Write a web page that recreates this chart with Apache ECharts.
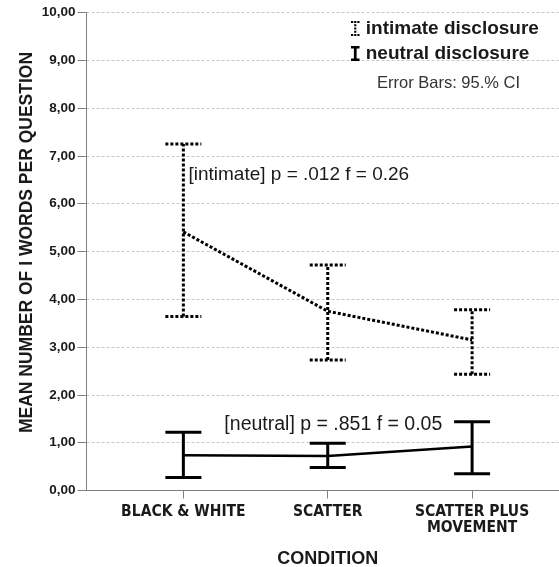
<!DOCTYPE html>
<html><head><meta charset="utf-8">
<script src="https://cdn.jsdelivr.net/npm/echarts@6/dist/echarts.min.js"></script>
<style>html,body{margin:0;padding:0;background:#fff}#c{width:559px;height:567px}</style>
</head><body><div id="c"></div>
<script>
// ---- data ----
const categories = ['BLACK & WHITE', 'SCATTER', 'SCATTER PLUS\nMOVEMENT'];
const categoryPos = [1, 2, 3];
const intimateMean = [5.41, 3.75, 3.15];
const intimateLow  = [3.64, 2.73, 2.43];
const intimateHigh = [7.25, 4.72, 3.78];
const neutralMean  = [0.74, 0.72, 0.92];
const neutralLow   = [0.27, 0.48, 0.35];
const neutralHigh  = [1.22, 0.99, 1.44];
const seriesNames  = ['intimate disclosure', 'neutral disclosure'];
const intimateNote = '[intimate] p = .012 f = 0.26';
const neutralNote  = '[neutral] p = .851 f = 0.05';
const intimateNoteAt = [1.035, 6.6];
const neutralNoteAt  = [1.284, 1.38];
const errorNote = 'Error Bars: 95.% CI';

const FONT = '"Liberation Sans", Arial, sans-serif';
const NARROW = '"Liberation Sans Narrow", "DejaVu Sans Condensed", "Liberation Sans", sans-serif';

function errRender(dash) {
  return function (params, api) {
    const x = api.value(0), lo = api.value(1), hi = api.value(2);
    const pLo = api.coord([x, lo]), pHi = api.coord([x, hi]);
    const hw = 18;
    const st = () => ({ stroke: '#000', lineWidth: 3, lineDash: dash, fill: null });
    return { type: 'group', children: [
      { type: 'line', shape: { x1: pLo[0], y1: pLo[1], x2: pHi[0], y2: pHi[1] }, style: st() },
      { type: 'line', shape: { x1: pHi[0] - hw, y1: pHi[1], x2: pHi[0] + hw, y2: pHi[1] }, style: st() },
      { type: 'line', shape: { x1: pLo[0] - hw, y1: pLo[1], x2: pLo[0] + hw, y2: pLo[1] }, style: st() }
    ]};
  };
}

const zip3 = (a, b, c) => a.map((v, i) => [v, b[i], c[i]]);
const zip2 = (a, b) => a.map((v, i) => [v, b[i]]);

const dottedIcon = 'path://M0,0h2.6v2.4h-2.6z M3.7,0h2.6v2.4h-2.6z M7.4,0h2.6v2.4h-2.6z M3.7,3.8h2.6v2.4h-2.6z M3.7,7.6h2.6v2.4h-2.6z M3.7,11.4h2.6v2.4h-2.6z M0,15.2h2.6v2.4h-2.6z M3.7,15.2h2.6v2.4h-2.6z M7.4,15.2h2.6v2.4h-2.6z';
const solidIcon = 'path://M0,0h10v2.8h-3.4v12h3.4v2.8h-10v-2.8h3.4v-12h-3.4z';

const chart = echarts.init(document.getElementById('c'), null, { renderer: 'canvas' });
chart.setOption({
  animation: false,
  backgroundColor: '#fff',
  grid: { left: 86.5, right: 0, top: 12.5, bottom: 76.5, containLabel: false, outerBoundsMode: 'none' },
  legend: {
    orient: 'vertical', left: 346, top: 14, itemWidth: 11, itemHeight: 15, itemGap: 6,
    selectedMode: false,
    textStyle: { fontFamily: FONT, fontWeight: 'bold', fontSize: 19, color: '#1a1a1a' },
    data: [
      { name: seriesNames[0], icon: dottedIcon, itemStyle: { color: '#000', borderWidth: 0 } },
      { name: seriesNames[1], icon: solidIcon, itemStyle: { color: '#000', borderWidth: 0 } }
    ]
  },
  xAxis: {
    type: 'value', min: 0.329, max: 3.602,
    name: 'CONDITION', nameLocation: 'middle', nameGap: 60, nameMoveOverlap: false,
    nameTextStyle: { fontFamily: FONT, fontWeight: 'bold', fontSize: 18, color: '#1a1a1a', padding: [0, 0, 0, 10] },
    axisLine: { show: true, lineStyle: { color: '#808080', width: 1 } },
    axisTick: { show: true, customValues: categoryPos, length: 8, lineStyle: { color: '#808080' } },
    axisLabel: {
      customValues: categoryPos, margin: 13,
      formatter: v => categories[categoryPos.indexOf(Math.round(v))] || '',
      fontFamily: NARROW, fontWeight: 'bold', fontSize: 15.5, lineHeight: 16.5, color: '#1a1a1a'
    },
    splitLine: { show: false }
  },
  yAxis: {
    type: 'value', min: 0, max: 10, interval: 1,
    name: 'MEAN NUMBER OF I WORDS PER QUESTION', nameLocation: 'middle', nameGap: 50, nameRotate: 90,
    nameMoveOverlap: false,
    nameTextStyle: { fontFamily: FONT, fontWeight: 'bold', fontSize: 17.5, color: '#1a1a1a', padding: [0, 0, 0, 18] },
    axisLine: { show: true, lineStyle: { color: '#808080', width: 1 } },
    axisTick: { show: true, length: 9, lineStyle: { color: '#808080' } },
    axisLabel: {
      margin: 11, formatter: v => v.toFixed(2).replace('.', ','),
      fontFamily: FONT, fontWeight: 'bold', fontSize: 13.5, color: '#1a1a1a'
    },
    splitLine: { show: true, lineStyle: { color: '#c8c8c8', width: 1, type: [3, 2] } }
  },
  series: [
    { name: seriesNames[0], type: 'custom', color: '#000', renderItem: errRender([3, 2]),
      encode: { x: 0, y: [1, 2] }, data: zip3(categoryPos, intimateLow, intimateHigh), z: 3 },
    { name: seriesNames[1], type: 'custom', color: '#000', renderItem: errRender(null),
      encode: { x: 0, y: [1, 2] }, data: zip3(categoryPos, neutralLow, neutralHigh), z: 3 },
    { name: 'intimate mean', type: 'line', symbol: 'none', data: zip2(categoryPos, intimateMean),
      lineStyle: { color: '#000', width: 3, type: [3, 2] }, z: 4 },
    { name: 'neutral mean', type: 'line', symbol: 'none', data: zip2(categoryPos, neutralMean),
      lineStyle: { color: '#000', width: 2.5 }, z: 4 }
  ]
});

const pI = chart.convertToPixel({ gridIndex: 0 }, intimateNoteAt);
const pN = chart.convertToPixel({ gridIndex: 0 }, neutralNoteAt);
chart.setOption({
  graphic: [
    { type: 'text', left: 377, top: 74.5, z: 10,
      style: { text: errorNote, fontFamily: FONT, fontSize: 16.5, fill: '#333' } },
    { type: 'text', x: pI[0], y: pI[1], z: 10,
      style: { text: intimateNote, fontFamily: FONT, fontSize: 19, fill: '#1a1a1a', verticalAlign: 'middle', align: 'left' } },
    { type: 'text', x: pN[0], y: pN[1], z: 10,
      style: { text: neutralNote, fontFamily: FONT, fontSize: 19.5, fill: '#1a1a1a', verticalAlign: 'middle', align: 'left' } }
  ]
});
</script></body></html>
